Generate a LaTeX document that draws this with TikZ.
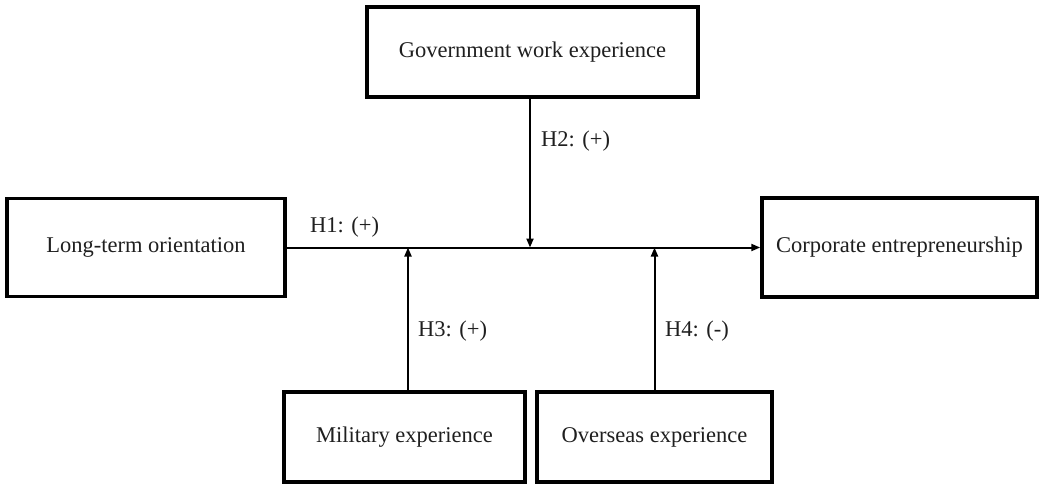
\documentclass[tikz,border=0pt]{standalone}
\usepackage{fontspec}
\setmainfont{Liberation Serif}
\usetikzlibrary{arrows.meta}
\begin{document}
\begin{tikzpicture}[x=1pt,y=-1pt,
  varbox/.style={draw=black,line width=3.5pt,minimum height=90pt,inner sep=0pt,font=\fontsize{22.5}{27}\selectfont,text=black!88},
  link/.style={line width=2pt,-{Triangle[length=9pt,width=7pt]}},
  hlabel/.style={anchor=west,inner sep=0pt,font=\fontsize{22.5}{27}\selectfont,text=black!88}]
\useasboundingbox (0,0) rectangle (1039,483);
\node[varbox,minimum width=278pt,minimum height=98pt] (lto) at (146,247.5) {Long-term orientation};
\node[varbox,minimum width=331pt] (gov) at (532.5,52) {Government work experience};
\node[varbox,minimum width=275pt,minimum height=99pt] (ce) at (899.5,247.5) {Corporate entrepreneurship};
\node[varbox,minimum width=241pt] (mil) at (404.5,437) {Military experience};
\node[varbox,minimum width=235pt] (ovs) at (654.5,437) {Overseas experience};
\coordinate (m2) at (530,247.5);
\coordinate (m3) at (408,247.5);
\coordinate (m4) at (654.5,247.5);
\draw[link] (lto.east) -- (ce.west);
\draw[link] (m2 |- gov.south) -- (m2);
\draw[link] (m3 |- mil.north) -- (m3);
\draw[link] (ovs.north) -- (m4);
\node[hlabel] (h1) at (310,227) {H1: (+)};
\node[hlabel] (h2) at (541,141) {H2: (+)};
\node[hlabel] (h3) at (418,331) {H3: (+)};
\node[hlabel] (h4) at (665,331) {H4: (-)};
\end{tikzpicture}
\end{document}
